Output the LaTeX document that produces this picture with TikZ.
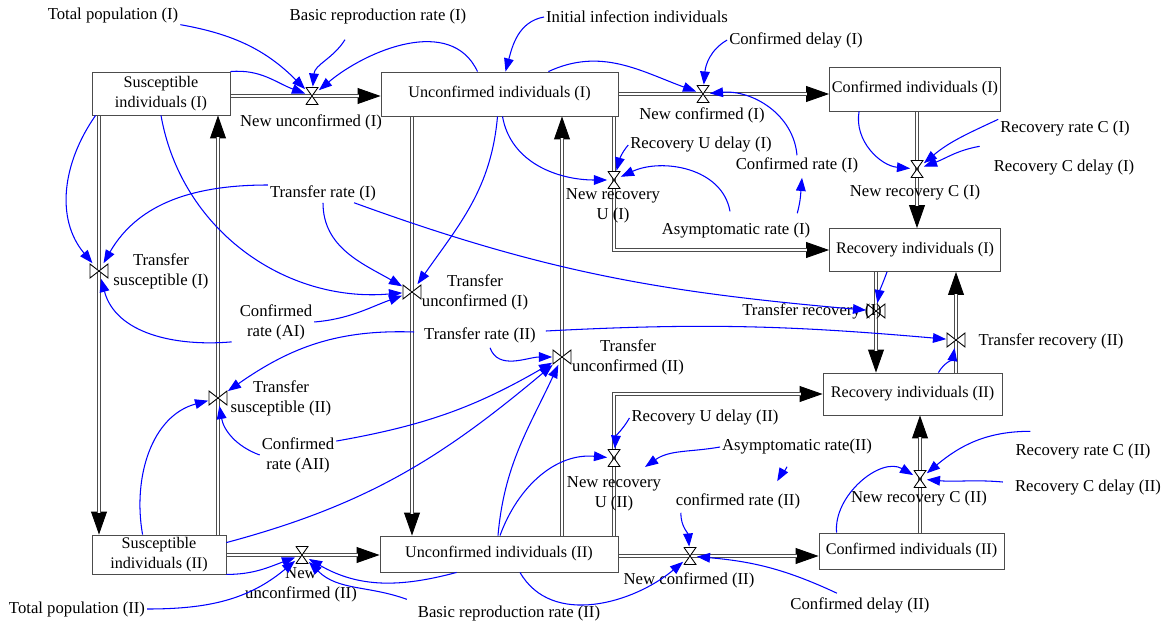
\documentclass[tikz,border=0pt]{standalone}
\usepackage{fontspec}
\setmainfont{Liberation Serif}
\usepackage{tikz}
\usetikzlibrary{positioning,calc,arrows.meta,backgrounds}

% pipe: black head underneath, double line on top
\newcommand{\pipe}[1]{\draw[pipetip] #1; \draw[pipeline] #1;}

\begin{document}
\begin{tikzpicture}[x=0.02cm, y=-0.02cm,
	every node/.style={font=\fontsize{9.5}{11.5}\selectfont},
	stock/.style={draw=black!70, fill=white, line width=0.5pt, align=center,
		inner sep=1pt, font=\fontsize{9.2}{11}\selectfont},
	aux/.style={align=center, inner sep=1pt},
	valveh/.style={minimum width=0.26cm, minimum height=0.36cm, inner sep=0pt,
		path picture={\filldraw[fill=white, line width=0.5pt]
			([shift={(0.3pt,-0.3pt)}]path picture bounding box.north west) --
			([shift={(-0.3pt,-0.3pt)}]path picture bounding box.north east) --
			([shift={(0.3pt,0.3pt)}]path picture bounding box.south west) --
			([shift={(-0.3pt,0.3pt)}]path picture bounding box.south east) -- cycle;}},
	valvev/.style={minimum width=0.38cm, minimum height=0.3cm, inner sep=0pt,
		path picture={\filldraw[fill=white, line width=0.5pt]
			([shift={(0.3pt,-0.3pt)}]path picture bounding box.north west) --
			([shift={(0.3pt,0.3pt)}]path picture bounding box.south west) --
			([shift={(-0.3pt,-0.3pt)}]path picture bounding box.north east) --
			([shift={(-0.3pt,0.3pt)}]path picture bounding box.south east) -- cycle;}},
	pipeline/.style={draw=black!70, line width=0.5pt, double=white,
		double distance=1.5pt, shorten >=12.5pt},
	pipetip/.style={draw=black, line width=0.5pt, -{Triangle[length=13pt,width=9pt]}},
	link/.style={draw=blue, line width=0.6pt, -{Triangle[length=7.5pt,width=5.5pt]}}
	]
	\useasboundingbox (0,0) rectangle (1171,626);

	% stocks
	\node[stock, minimum width=2.76cm, minimum height=0.86cm] (s1) at (161,93.5) {Susceptible\\individuals (I)};
	\node[stock, minimum width=4.74cm, minimum height=0.88cm] (u1) at (499.5,94) {Unconfirmed individuals (I)};
	\node[stock, minimum width=3.42cm, minimum height=0.88cm] (c1) at (915,89) {Confirmed individuals (I)};
	\node[stock, minimum width=3.42cm, minimum height=0.86cm] (r1) at (915,250) {Recovery individuals (I)};
	\node[stock, minimum width=3.58cm, minimum height=0.84cm] (r2) at (912.5,394) {Recovery individuals (II)};
	\node[stock, minimum width=3.7cm, minimum height=0.72cm] (c2) at (911.5,551) {Confirmed individuals (II)};
	\node[stock, minimum width=4.76cm, minimum height=0.72cm] (u2) at (499,554) {Unconfirmed individuals (II)};
	\node[stock, minimum width=2.68cm, minimum height=0.78cm] (s2) at (159,554.5) {Susceptible\\individuals (II)};

	% valves
	\node[valveh] (vnu1) at (312,96) {};
	\node[valveh] (vnc1) at (703,94) {};
	\node[valveh] (vnru1) at (614,180) {};
	\node[valveh] (vnrc1) at (917,169) {};
	\node[valvev] (vts1) at (99,271) {};
	\node[valvev] (vtu1) at (412,292) {};
	\node[valvev] (vts2) at (218,398) {};
	\node[valvev] (vtu2) at (562,357) {};
	\node[valvev] (vtr1) at (876,311) {};
	\node[valvev] (vtr2) at (956,340) {};
	\node[valveh] (vnru2) at (614,458) {};
	\node[valveh] (vnrc2) at (920,479) {};
	\node[valveh] (vnc2) at (690,556) {};
	\node[valveh] (vnu2) at (302,555) {};

	% valve names
	\node[aux] (tnu1) at (311,122) {New unconfirmed (I)};
	\node[aux] (tnc1) at (702,115) {New confirmed (I)};
	\node[aux] (tnru1) at (613,206) {New recovery\\U (I)};
	\node[aux] (tnrc1) at (915,193) {New recovery C (I)};
	\node[aux] (tts1) at (161,271) {Transfer\\susceptible (I)};
	\node[aux] (ttu1) at (475,292) {Transfer\\unconfirmed (I)};
	\node[aux] (tts2) at (281,398) {Transfer\\susceptible (II)};
	\node[aux] (ttu2) at (628,357) {Transfer\\unconfirmed (II)};
	\node[aux] (ttr1) at (812,311) {Transfer recovery (I)};
	\node[aux] (ttr2) at (1051,341) {Transfer recovery (II)};
	\node[aux] (tnru2) at (614,494) {New recovery\\U (II)};
	\node[aux] (tnrc2) at (919,499) {New recovery C (II)};
	\node[aux] (tnc2) at (689,580) {New confirmed (II)};
	\node[aux] (tnu2) at (301,585) {New\\unconfirmed (II)};

	% auxiliaries
	\node[aux] (tp1) at (113,15) {Total population (I)};
	\node[aux] (br1) at (378,16) {Basic reproduction rate (I)};
	\node[aux] (ii) at (637,17) {Initial infection individuals};
	\node[aux] (cd1) at (796,40) {Confirmed delay (I)};
	\node[aux] (rud1) at (701,145) {Recovery U delay (I)};
	\node[aux] (cr1) at (797,165) {Confirmed rate (I)};
	\node[aux] (ar1) at (736,231) {Asymptomatic rate (I)};
	\node[aux] (rrc1) at (1065,129) {Recovery rate C (I)};
	\node[aux] (rcd1) at (1064,168) {Recovery C delay (I)};
	\node[aux] (tr1) at (323,193) {Transfer rate (I)};
	\node[aux] (crai) at (276,322) {Confirmed\\rate (AI)};
	\node[aux] (tr2) at (480,335) {Transfer rate (II)};
	\node[aux] (craii) at (298,455) {Confirmed\\rate (AII)};
	\node[aux] (rud2) at (705,418) {Recovery U delay (II)};
	\node[aux] (ar2) at (797,447) {Asymptomatic rate(II)};
	\node[aux] (cr2) at (738,501) {confirmed rate (II)};
	\node[aux] (rrc2) at (1083,452) {Recovery rate C (II)};
	\node[aux] (rcd2) at (1088,488) {Recovery C delay (II)};
	\node[aux] (tp2) at (77,609) {Total population (II)};
	\node[aux] (br2) at (509,613) {Basic reproduction rate (II)};
	\node[aux] (cd2) at (860,605) {Confirmed delay (II)};
	\coordinate (ar2end) at (645,467);

	% flows
	\begin{scope}[on background layer]
		\pipe{(s1.east |- vnu1) -- (u1.west |- vnu1)}
		\pipe{(u1.east |- vnc1) -- (c1.west |- vnc1)}
		\pipe{(c1.south -| vnrc1) -- (r1.north -| vnrc1)}
		\pipe{(u1.south -| vnru1) |- (r1.west)}
		\pipe{(s1.south -| vts1) -- (s2.north -| vts1)}
		\pipe{(s2.north -| vts2) -- (s1.south -| vts2)}
		\pipe{(u1.south -| vtu1) -- (u2.north -| vtu1)}
		\pipe{(u2.north -| vtu2) -- (u1.south -| vtu2)}
		\pipe{(r1.south -| vtr1) -- (r2.north -| vtr1)}
		\pipe{(r2.north -| vtr2) -- (r1.south -| vtr2)}
		\pipe{(u2.north -| vnru2) |- (r2.west)}
		\pipe{(c2.north -| vnrc2) -- (r2.south -| vnrc2)}
		\pipe{(u2.east |- vnc2) -- (c2.west |- vnc2)}
		\pipe{(s2.east |- vnu2) -- (u2.west |- vnu2)}
	\end{scope}

	% links (I)
	\draw[link] (tp1.south east) to[out=-10,in=135] (vnu1);
	\draw[link] ($(br1.south)+(-33,14)$) to[out=-122,in=85] (vnu1);
	\draw[link] (s1.north east) to[out=5,in=160] (vnu1);
	\draw[link] ($(u1.north)+(-22,0)$) to[out=115,in=40] (vnu1);
	\draw[link] (ii.west) to[out=190,in=75] ($(u1.north)+(6,0)$);
	\draw[link] ($(u1.north east)+(-70,0)$) to[out=25,in=160] (vnc1);
	\draw[link] (cd1.west) to[out=-150,in=85] (vnc1);
	\draw[link] (cr1.north) to[out=95,in=5] (vnc1);
	\draw[link] ($(ar1.north east)+(-15,-8)$) to[out=75,in=-95] ($(cr1.south)+(5,3)$);
	\draw[link] ($(ar1.north)+(-6,-10)$) to[out=100,in=25] (vnru1);
	\draw[link] ($(u1.south)+(3,0)$) to[out=-80,in=180] (vnru1);
	\draw[link] (rud1.west) to[out=-130,in=75] (vnru1);
	\draw[link] ($(c1.south west)+(30,0)$) to[out=-100,in=175] (vnrc1);
	\draw[link] (rrc1.north west) to[out=-155,in=40] (vnrc1);
	\draw[link] ($(rcd1.north west)+(-12,-12)$) to[out=-170,in=20] (vnrc1);
	\draw[link] ($(s1.south west)+(4,0)$) to[out=-125,in=130] (vts1);
	\draw[link] ($(tr1.west)+(0,-8)$) to[out=180,in=60] (vts1);
	\draw[link] ($(crai.south west)+(-6,0)$) to[out=185,in=-75] (vts1);
	\draw[link] (s1.south) to[out=-80,in=185] (vtu1);
	\draw[link] (tr1.south) to[out=-90,in=150] (vtu1);
	\draw[link] (crai.east) to[out=5,in=-160] (vtu1);
	\draw[link] ($(u1.south)+(-2,0)$) to[out=-95,in=55] (vtu1);
	\draw[link] ($(tr1.south east)+(-24,0)$) to[out=-20,in=175] (vtr1);
	\draw[link] ($(r1.south)+(-28,0)$) to[out=-110,in=80] (vtr1);

	% links (II)
	\draw[link] ($(tr2.east)+(8,-4)$) to[out=3,in=175] (vtr2);
	\draw[link] ($(r2.north east)+(-64,0)$) to[out=60,in=-100] (vtr2);
	\draw[link] ($(tr2.west)+(-8,-3)$) to[out=178,in=35] (vts2);
	\draw[link] ($(tr2.south)+(10,3)$) to[out=-70,in=180] (vtu2);
	\draw[link] (craii.west) to[out=160,in=-80] (vts2);
	\draw[link] ($(s2.north west)+(51,0)$) to[out=100,in=195] (vts2);
	\draw[link] (craii.20) to[out=10,in=-150] (vtu2);
	\draw[link] ($(s2.north east)+(0,8)$) to[out=15,in=-140] (vtu2);
	\draw[link] ($(u2.north)+(-1,0)$) to[out=85,in=-115] (vtu2);
	\draw[link] ($(u2.north)+(1,0)$) to[out=70,in=175] (vnru2);
	\draw[link] (rud2.west) to[out=-120,in=85] (vnru2);
	\draw[link] (ar2.west) to[out=190,in=35] (ar2end);
	\draw[link] ($(ar2.south)+(-10,10)$) to[out=-115,in=60] ($(cr2.north east)+(-25,-10)$);
	\draw[link] ($(cr2.south west)+(7,2)$) to[out=-90,in=95] (vnc2);
	\draw[link] ($(u2.south)+(21,0)$) to[out=-60,in=-140] (vnc2);
	\draw[link] ($(cd2.north)+(-23,-2)$) to[out=155,in=-5] (vnc2);
	\draw[link] ($(c2.north west)+(18,0)$) to[out=95,in=150] (vnrc2);
	\draw[link] ($(rrc2.north west)+(17,-11)$) to[out=180,in=40] (vnrc2);
	\draw[link] ($(rcd2.west)+(-10,-6)$) to[out=175,in=-5] (vnrc2);
	\draw[link] (tp2.east) to[out=0,in=-140] (vnu2);
	\draw[link] (s2.south east) to[out=0,in=-160] (vnu2);
	\draw[link] ($(br2.north west)+(-9,-4)$) to[out=160,in=-45] (vnu2);
	\draw[link] ($(u2.south west)+(77,0)$) to[out=-165,in=-30] (vnu2);
\end{tikzpicture}
\end{document}
